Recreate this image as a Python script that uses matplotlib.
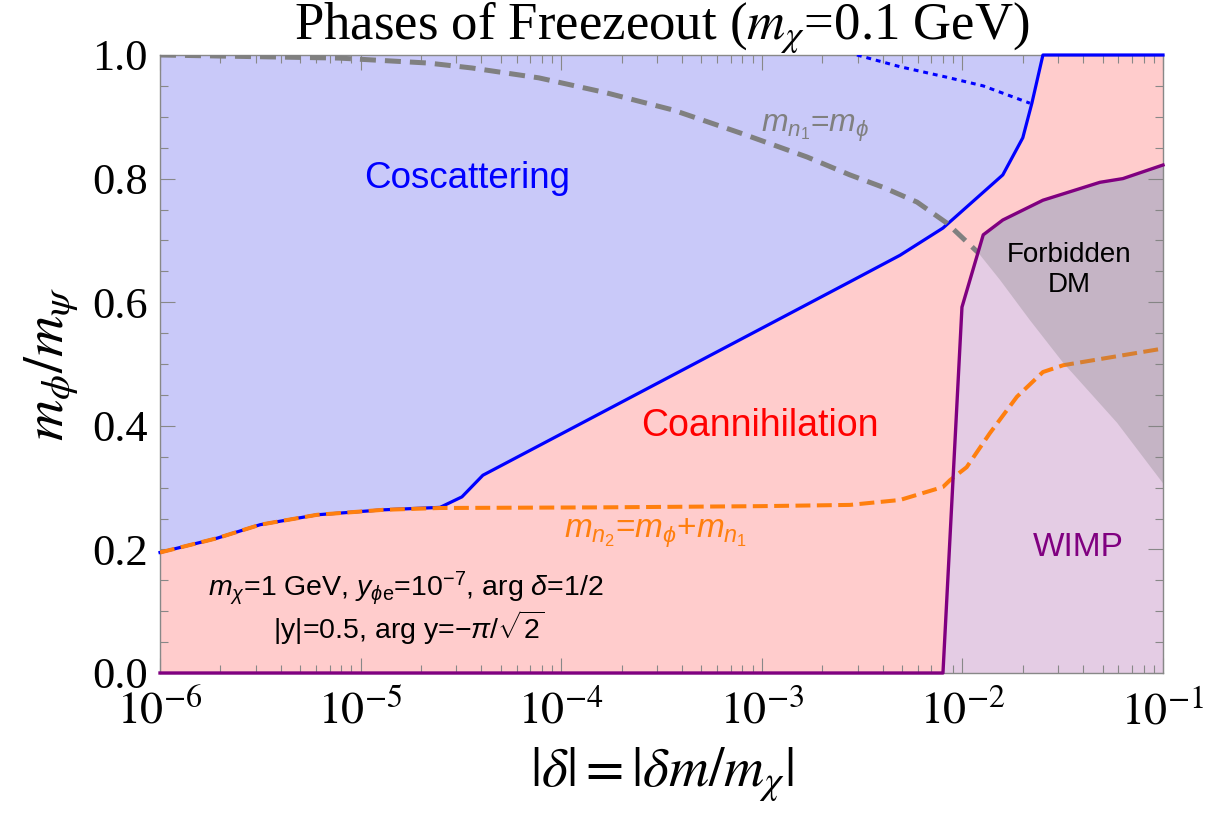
import numpy as np
import matplotlib
matplotlib.use('Agg')
import matplotlib.pyplot as plt
from matplotlib.ticker import FixedLocator, NullFormatter, LogLocator, MultipleLocator

plt.rcParams['mathtext.fontset'] = 'stix'
plt.rcParams['mathtext.rm'] = 'Liberation Sans'
plt.rcParams['mathtext.it'] = 'Liberation Sans:italic'
plt.rcParams['mathtext.sf'] = 'Liberation Sans'
plt.rcParams['mathtext.bf'] = 'Liberation Sans:bold'

# ---------------- data ----------------
# Coscattering / coannihilation boundary (solid blue)
blue_x = [1.0e-6, 1.92e-6, 3.16e-6, 6.07e-6, 1.29e-5, 2.49e-5, 3.20e-5, 4.07e-5,
          2.75e-3, 4.89e-3, 8.0e-3, 1.59e-2, 2.0e-2, 2.22e-2, 2.52e-2, 1.0e-1]
blue_y = [0.195, 0.218, 0.240, 0.256, 0.264, 0.268, 0.285, 0.320,
          0.633, 0.676, 0.720, 0.806, 0.866, 0.922, 1.0, 1.0]

# m_n2 = m_phi + m_n1 (orange dashed)
n2_x = [1.0e-6, 1.92e-6, 3.16e-6, 6.07e-6, 1.29e-5, 2.49e-5, 1.56e-4, 1.0e-3,
        2.75e-3, 4.89e-3, 8.0e-3, 8.67e-3, 1.05e-2, 1.37e-2, 1.87e-2, 2.52e-2,
        3.18e-2, 1.0e-1]
n2_y = [0.195, 0.218, 0.240, 0.256, 0.264, 0.267, 0.268, 0.270,
        0.272, 0.280, 0.301, 0.312, 0.333, 0.388, 0.447, 0.487,
        0.498, 0.525]

# m_n1 = m_phi (gray dashed)
n1_x = [1.0e-6, 7.80e-6, 2.17e-5, 3.59e-5, 7.74e-5, 1.67e-4, 3.61e-4, 7.78e-4,
        1.68e-3, 2.75e-3, 4.02e-3, 5.94e-3, 8.37e-3, 1.20e-2]
n1_y = [1.0, 0.995, 0.987, 0.979, 0.963, 0.939, 0.911, 0.874,
        0.835, 0.806, 0.786, 0.762, 0.728, 0.680]

# continuation of m_n1 = m_phi bounding the forbidden region
forb_x = [1.20e-2, 1.54e-2, 2.17e-2, 3.18e-2, 5.90e-2, 1.0e-1]
forb_y = [0.680, 0.636, 0.571, 0.502, 0.405, 0.307]

# WIMP boundary (purple)
wimp_x = [1.0e-6, 8.0e-3, 9.95e-3, 1.27e-2, 1.59e-2, 2.52e-2, 4.85e-2, 6.31e-2, 1.0e-1]
wimp_y = [0.0, 0.0, 0.592, 0.709, 0.733, 0.765, 0.794, 0.800, 0.822]

# blue dotted line
dot_x = [2.98e-3, 4.89e-3, 8.37e-3, 1.27e-2, 2.17e-2]
dot_y = [1.0, 0.981, 0.964, 0.950, 0.922]

xticks = [1e-6, 1e-5, 1e-4, 1e-3, 1e-2, 1e-1]
xticklabels = [r'$10^{-6}$', r'$10^{-5}$', r'$10^{-4}$', r'$10^{-3}$', r'$10^{-2}$', r'$10^{-1}$']
yticks = [0.0, 0.2, 0.4, 0.6, 0.8, 1.0]
yticklabels = ['0.0', '0.2', '0.4', '0.6', '0.8', '1.0']

# ---------------- colours ----------------
c_blue_fill = '#c9c9f9'
c_pink = '#ffcccc'
c_wimp = '#e4cce4'
c_blue = '#0000ff'
c_purple = '#800080'
c_orange = '#ff7f0e'
c_gray = '#808080'

fig = plt.figure(figsize=(12.08, 8.14), dpi=100)
ax = fig.add_axes([160/1208, 1 - 673/814, (1163-160)/1208, (673-55)/814])
ax.set_xscale('log')
ax.set_xlim(1e-6, 1e-1)
ax.set_ylim(0, 1)
ax.set_facecolor(c_pink)

# regions
ax.fill_between(blue_x, blue_y, 1.0, color=c_blue_fill, lw=0, zorder=1)
ax.fill_between(wimp_x[1:], 0, wimp_y[1:], color=c_wimp, lw=0, zorder=1)

# lines
ax.plot(blue_x, blue_y, color=c_blue, lw=2.3, zorder=3, clip_on=False)
ax.plot(n2_x, n2_y, color=c_orange, lw=2.9, dashes=(3.7, 1.6), zorder=4)
ax.plot(n1_x, n1_y, color=c_gray, lw=3.6, dashes=(3.2, 1.8), zorder=4)
ax.plot(dot_x, dot_y, color=c_blue, lw=2.2, dashes=(1.6, 1.6), zorder=4)

# forbidden region (translucent gray overlay)
lx = np.log10(wimp_x)
fx0 = np.log10(forb_x[0])
top_x = [forb_x[0]] + [x for x in wimp_x if x > forb_x[0]]
top_y = [float(np.interp(fx0, lx, wimp_y))] + [y for x, y in zip(wimp_x, wimp_y) if x > forb_x[0]]
poly_x = top_x + forb_x[::-1]
poly_y = top_y + forb_y[::-1]
ax.fill(poly_x, poly_y, color='#808080', alpha=0.31, lw=0, zorder=5)

ax.plot(wimp_x, wimp_y, color=c_purple, lw=2.4, zorder=6, clip_on=False)

# ---------------- ticks ----------------
ax.xaxis.set_major_locator(FixedLocator(xticks))
ax.set_xticklabels(xticklabels)
ax.xaxis.set_minor_locator(LogLocator(base=10, subs=np.arange(2, 10)))
ax.xaxis.set_minor_formatter(NullFormatter())
ax.yaxis.set_major_locator(FixedLocator(yticks))
ax.set_yticklabels(yticklabels)
ax.yaxis.set_minor_locator(MultipleLocator(0.05))
for lab in ax.get_xticklabels():
    lab.set_fontfamily('Liberation Serif')
    lab.set_fontsize(33)
for lab in ax.get_yticklabels():
    lab.set_fontfamily('Liberation Serif')
    lab.set_fontsize(32)
ax.tick_params(which='both', direction='in', top=True, right=True, colors='#888888',
               labelcolor='black', width=0.8)
ax.tick_params(which='major', length=11)
ax.tick_params(axis='x', which='major', pad=13)
ax.tick_params(axis='y', which='major', pad=9)
ax.tick_params(which='minor', length=6)
for s in ax.spines.values():
    s.set_color('#888888')
    s.set_linewidth(1.0)
    s.set_zorder(2.5)

ax.set_xlabel(r'$|\delta|=|\delta m/m_\chi|$', fontsize=40, labelpad=8)
ax.set_ylabel(r'$m_\phi/m_\psi$', fontsize=41, labelpad=8)
ax.set_title(r'Phases of Freezeout ($m_\chi$=0.1 GeV)', fontfamily='Liberation Serif',
             fontsize=38, pad=11)

# ---------------- labels ----------------
sans = dict(fontfamily='Liberation Sans', math_fontfamily='custom', ha='center', va='center', zorder=8)
ax.text(3.4e-5, 0.80, 'Coscattering', color='#0000ff', fontsize=26.5, **sans)
ax.text(9.8e-4, 0.40, 'Coannihilation', color='#ff0000', fontsize=27, **sans)
ax.text(3.77e-2, 0.203, 'WIMP', color=c_purple, fontsize=24, **sans)
ax.text(3.4e-2, 0.652, 'Forbidden\nDM', color='black', fontsize=20, linespacing=1.2, **sans)
ax.text(1.84e-3, 0.882, r'$m_{n_1}$=$m_\phi$', color=c_gray, fontsize=23, **sans)
ax.text(2.94e-4, 0.2265, r'$m_{n_2}$=$m_\phi$+$m_{n_1}$', color=c_orange, fontsize=24, **sans)
ax.text(1.68e-5, 0.1375, r'$m_\chi$=1 GeV, $y_{\phi\mathrm{e}}$=10$^{-7}$, arg $\delta$=1/2',
        color='black', fontsize=20.5, **sans)
ax.text(1.75e-5, 0.073, r'|y|=0.5, arg y=$-\pi/\sqrt{2}$', color='black', fontsize=20.5, **sans)

fig.savefig('out.png', dpi=100)
